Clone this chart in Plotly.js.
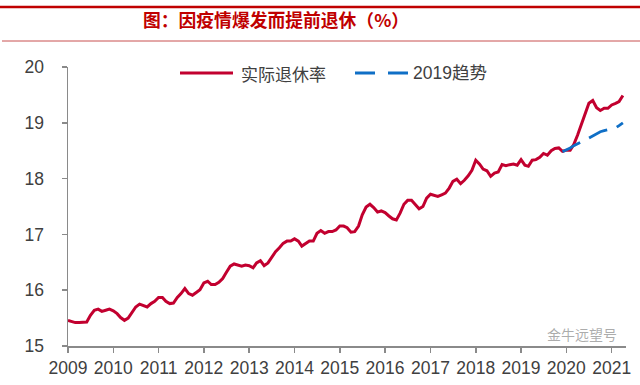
<!DOCTYPE html>
<html>
<head>
<meta charset="utf-8">
<script src="https://cdn.plot.ly/plotly-3.0.1.min.js"></script>
<style>html,body{margin:0;padding:0;background:#fff;}#chart{width:640px;height:385px;}</style>
</head>
<body>
<div id="chart"></div>
<script>
// Actual retirement rate (%), monthly from 2009-01
const actualRate = [
 15.46,15.44,15.42,15.42,15.43,15.43,15.55,15.64,15.66,15.62,15.64,15.66,
 15.63,15.58,15.51,15.46,15.50,15.61,15.70,15.75,15.73,15.70,15.76,15.80,
 15.87,15.87,15.80,15.76,15.77,15.87,15.94,16.03,15.94,15.91,15.96,16.01,
 16.13,16.16,16.10,16.10,16.14,16.21,16.32,16.43,16.47,16.45,16.43,16.45,
 16.44,16.40,16.49,16.53,16.44,16.49,16.60,16.69,16.76,16.84,16.88,16.88,
 16.92,16.88,16.79,16.84,16.88,16.88,17.02,17.07,17.02,17.05,17.05,17.08,
 17.15,17.15,17.12,17.04,17.05,17.15,17.35,17.49,17.54,17.48,17.40,17.42,
 17.39,17.33,17.28,17.26,17.38,17.54,17.61,17.61,17.54,17.46,17.50,17.65,
 17.72,17.70,17.68,17.71,17.74,17.83,17.95,17.99,17.91,17.97,18.05,18.15,
 18.33,18.26,18.17,18.14,18.04,18.10,18.12,18.25,18.23,18.25,18.26,18.24,
 18.34,18.24,18.22,18.33,18.34,18.38,18.45,18.42,18.50,18.54,18.55,18.49,
 18.51,18.51,18.61,18.78,18.97,19.19,19.35,19.40,19.27,19.22,19.26,19.26,
 19.32,19.35,19.38,19.49
];
// 2019 trend (%), monthly from 2019-12
const trend2019 = [18.48,18.51,18.55,18.59,18.63,18.66,18.69,18.73,18.77,18.81,18.84,18.86,18.88,18.89,18.91,18.95,19.00];
const trendStartIndex = 131;
const yearLabels = ['2009','2010','2011','2012','2013','2014','2015','2016','2017','2018','2019','2020','2021'];
const seriesNames = ['实际退休率','2019趋势'];
const titleText = '图：因疫情爆发而提前退休（%）';
const watermark = '金牛远望号';

const months = actualRate.map((_, i) => {
  const y = 2009 + Math.floor(i / 12), m = (i % 12) + 1;
  return y + '-' + String(m).padStart(2, '0') + '-01';
});
const yearTicks = yearLabels.map(y => y + '-01-01');

const RED = '#C2002F', BLUE = '#0F6FC6', GRAY = '#404040', AX = '#8a8a8a';

const traces = [
  {x: months, y: actualRate, type: 'scatter', mode: 'lines', name: seriesNames[0],
   line: {color: RED, width: 3}},
  {x: months.slice(trendStartIndex), y: trend2019, type: 'scatter', mode: 'lines', name: seriesNames[1],
   line: {color: BLUE, width: 2.8, dash: '20px,10px'}}
];

const W = 558, H = 279, L = 68, T = 67;
const px = v => (v - L) / W;
const py = v => (T + H - v) / H;

const layout = {
  width: 640, height: 385,
  margin: {l: 68, r: 14, t: 67, b: 39},
  paper_bgcolor: '#fff', plot_bgcolor: '#fff',
  showlegend: false,
  font: {family: 'Liberation Sans, Arial, sans-serif', color: GRAY},
  title: {text: titleText, xref: 'paper', x: px(276), xanchor: 'center', yref: 'container', y: 1 - 21/385, yanchor: 'middle',
          font: {family: 'Noto Sans CJK SC', size: 17.8, color: '#C00000', weight: 'bold'}},
  xaxis: {type: 'date', range: ['2009-01-01', '2021-04-26'], tickvals: yearTicks, ticktext: yearLabels,
          showgrid: false, zeroline: false, showline: true, linecolor: AX, linewidth: 1.5,
          ticks: 'outside', ticklen: 5, tickcolor: AX, tickwidth: 1.5, ticklabelstandoff: 0,
          tickfont: {size: 17.5, color: GRAY, family: 'Liberation Sans, Arial, sans-serif'}},
  yaxis: {range: [15, 20], tickvals: [15,16,17,18,19,20], showgrid: false, zeroline: false,
          showline: true, linecolor: AX, linewidth: 1.5,
          ticks: 'outside', ticklen: 5, tickcolor: AX, tickwidth: 1.5, ticklabelstandoff: 14,
          tickfont: {size: 17.5, color: GRAY, family: 'Liberation Sans, Arial, sans-serif'}},
  shapes: [
    {type: 'line', xref: 'paper', yref: 'paper', x0: px(0), x1: px(640), y0: py(7), y1: py(7), line: {color: '#C00000', width: 2.5}},
    {type: 'line', xref: 'paper', yref: 'paper', x0: px(2), x1: px(640), y0: py(41), y1: py(41), line: {color: '#C85050', width: 1}},
    {type: 'line', xref: 'paper', yref: 'paper', x0: px(180), x1: px(233), y0: py(73), y1: py(73), line: {color: RED, width: 3}},
    {type: 'line', xref: 'paper', yref: 'paper', x0: px(355), x1: px(408), y0: py(73), y1: py(73), line: {color: BLUE, width: 2.8, dash: '20px,13px'}}
  ],
  annotations: [
    {text: seriesNames[0], xref: 'paper', yref: 'paper', x: px(239), y: py(73), xanchor: 'left', yanchor: 'middle', showarrow: false,
     font: {family: 'Noto Sans CJK SC', size: 17, color: GRAY}},
    {text: seriesNames[1], xref: 'paper', yref: 'paper', x: px(411), y: py(73), xanchor: 'left', yanchor: 'middle', showarrow: false,
     font: {family: 'Liberation Sans, Noto Sans CJK SC', size: 17.5, color: GRAY}},
    {text: watermark, xref: 'paper', yref: 'paper', x: px(582), y: py(334), xanchor: 'center', yanchor: 'middle', showarrow: false,
     font: {family: 'Noto Sans CJK SC', size: 14, color: 'rgba(90,90,90,0.5)'}}
  ]
};

Plotly.newPlot('chart', traces, layout, {staticPlot: true, displayModeBar: false});
</script>
</body>
</html>
